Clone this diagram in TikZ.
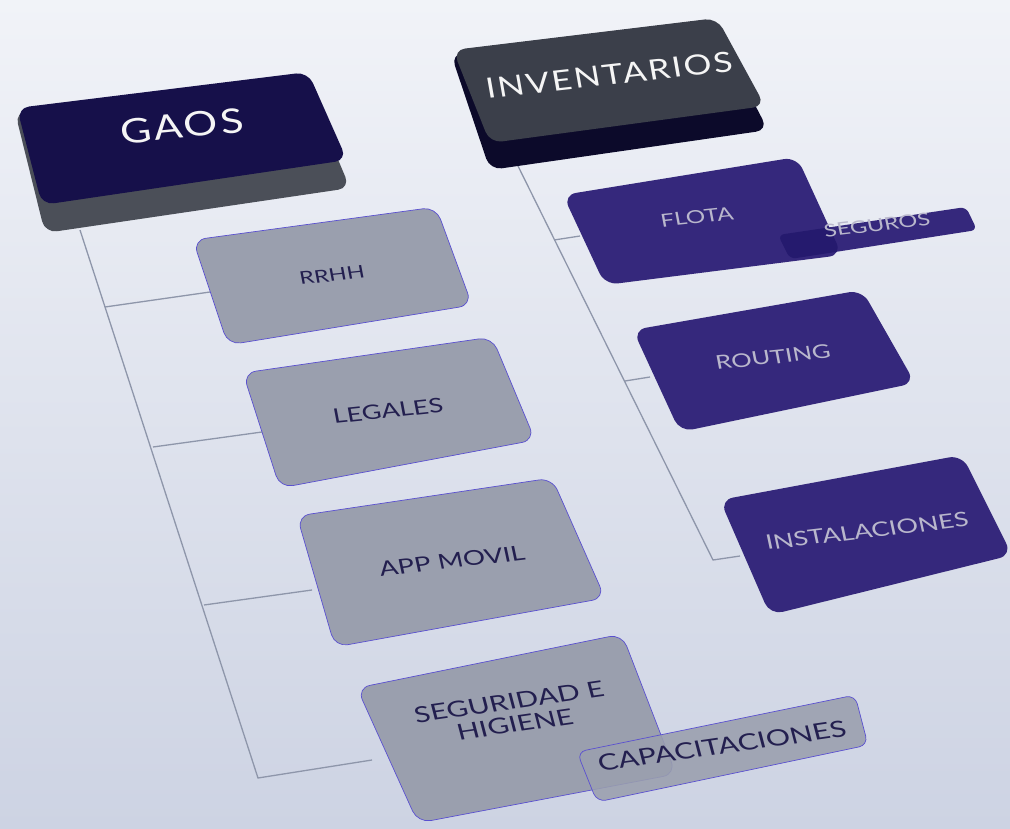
\documentclass[tikz,border=0pt]{standalone}
\usepackage{fontspec}
\setmainfont{Lato}
\definecolor{bgtop}{HTML}{F1F3F8}
\definecolor{bgbottom}{HTML}{CDD3E3}
\definecolor{gaostop}{HTML}{16104A}
\definecolor{gaosside}{HTML}{4B4F58}
\definecolor{invtop}{HTML}{3B3F4A}
\definecolor{invside}{HTML}{0C0A2A}
\definecolor{leafgray}{HTML}{9A9FAE}
\definecolor{leafedge}{HTML}{5A50D0}
\definecolor{leafpurple}{HTML}{35287C}
\definecolor{deeppurple}{HTML}{251A6E}
\definecolor{linkgray}{HTML}{8E96AA}
\definecolor{inkdark}{HTML}{231F4F}
\definecolor{inklight}{HTML}{B9B7CC}
\tikzset{
  leaf/.style={fill=leafgray, draw=leafedge, line width=0.7pt, rounded corners=13pt},
  darkleaf/.style={fill=leafpurple, rounded corners=13pt},
  link/.style={draw=linkgray, line width=1.3pt},
  leaftext/.style={text=inkdark, align=center, xscale=1.35, font=\fontsize{#1}{#1}\selectfont},
  lighttext/.style={text=inklight, align=center, xscale=1.35, font=\fontsize{#1}{#1}\selectfont},
  headtext/.style={text=white!92!gray, xscale=1.25, font=\fontsize{#1}{#1}\selectfont\addfontfeature{LetterSpace=6}}
}
\begin{document}
\begin{tikzpicture}[x=1pt,y=-1pt]
    % Background
    \useasboundingbox (0,0) rectangle (1010,828);
    \shade[top color=bgtop, bottom color=bgbottom] (0,0) rectangle (1010,828);

    % Define tree points
    \coordinate (gaosroot) at (80,230);
    \coordinate (gaosend) at (258,778);
    \coordinate (t1) at (105,307);
    \coordinate (t2) at (153,447);
    \coordinate (t3) at (204,605);
    \coordinate (b1) at (210,292);
    \coordinate (b2) at (262,432);
    \coordinate (b3) at (312,590);
    \coordinate (b4) at (372,760);
    \coordinate (invroot) at (518,166);
    \coordinate (invend) at (713,560);
    \coordinate (u1) at (554,240);
    \coordinate (u2) at (625,381);
    \coordinate (c1) at (580,236);
    \coordinate (c2) at (650,377);
    \coordinate (c3) at (740,556);

    % Draw connectors
    \draw[link] (gaosroot) -- (gaosend) -- (b4);
    \draw[link] (t1) -- (b1);
    \draw[link] (t2) -- (b2);
    \draw[link] (t3) -- (b3);
    \draw[link] (invroot) -- (invend) -- (c3);
    \draw[link] (u1) -- (c1);
    \draw[link] (u2) -- (c2);

    % GAOS block
    \fill[gaosside, rounded corners=12pt] (15,112) -- (302,74) -- (350,188) -- (45,233) -- cycle;
    \fill[gaostop, rounded corners=12pt] (17,108) -- (308,72) -- (347,160) -- (42,205) -- cycle;
    \node (gaos) [headtext=34, rotate=7] at (182,126) {GAOS};

    % INVENTARIOS block
    \fill[invside, rounded corners=12pt] (451,54) -- (712,22) -- (768,130) -- (490,170) -- cycle;
    \fill[invtop, rounded corners=12pt] (453,50) -- (717,18) -- (765,106) -- (490,143) -- cycle;
    \node (inventarios) [headtext=28, rotate=8] at (609,75) {INVENTARIOS};

    % Gray leaves
    \draw[leaf] (193,240) -- (436,207) -- (472,305) -- (228,345) -- cycle;
    \node (rrhh) [leaftext=17.5, rotate=8] at (332,275) {RRHH};
    \draw[leaf] (243,373) -- (492,337) -- (535,440) -- (280,488) -- cycle;
    \node (legales) [leaftext=20, rotate=8] at (388,411) {LEGALES};
    \draw[leaf] (297,516) -- (552,478) -- (605,598) -- (335,647) -- cycle;
    \node (appmovil) [leaftext=20.5, rotate=9] at (452,561) {APP MOVIL};
    \draw[leaf] (357,688) -- (622,634) -- (676,774) -- (418,823) -- cycle;
    \node (seguridad) [leaftext=22, rotate=11] at (512,713) {SEGURIDAD E\\[1pt]HIGIENE};
    \draw[leaf, fill opacity=0.88, rounded corners=9pt] (577,752) -- (855,695) -- (868,745) -- (597,802) -- cycle;
    \node (capacitaciones) [leaftext=22.5, rotate=11] at (722,746) {CAPACITACIONES};

    % Purple leaves
    \fill[darkleaf] (563,195) -- (797,157) -- (842,255) -- (605,285) -- cycle;
    \node (flota) [lighttext=18, rotate=8] at (697,217) {FLOTA};
    \fill[leafpurple, rounded corners=6pt] (778,235) -- (966,207) -- (977,230) -- (790,259) -- cycle;
    \begin{scope}
      \clip[rounded corners=13pt] (563,195) -- (797,157) -- (842,255) -- (605,285) -- cycle;
      \fill[deeppurple, rounded corners=6pt] (778,235) -- (966,207) -- (977,230) -- (790,259) -- cycle;
    \end{scope}
    \node (seguros) [lighttext=17.5, rotate=9] at (877,225) {SEGUROS};
    \fill[darkleaf] (633,330) -- (862,290) -- (915,383) -- (680,432) -- cycle;
    \node (routing) [lighttext=19, rotate=8] at (773,357) {ROUTING};
    \fill[darkleaf] (720,500) -- (962,455) -- (1012,555) -- (770,615) -- cycle;
    \node (instalaciones) [lighttext=20, rotate=9] at (867,531) {INSTALACIONES};
\end{tikzpicture}
\end{document}
